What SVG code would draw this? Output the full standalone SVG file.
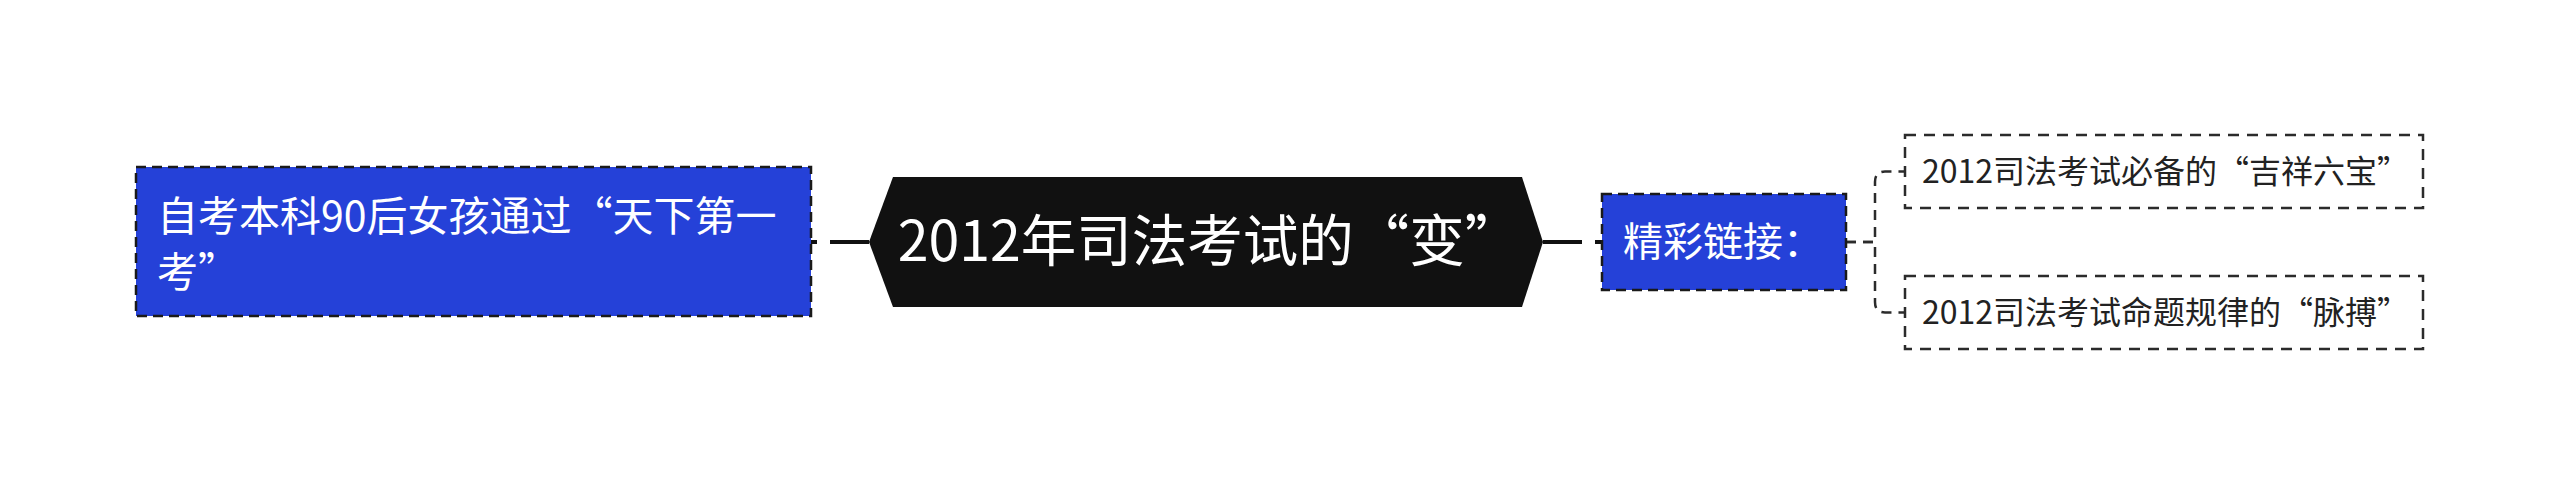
<svg xmlns="http://www.w3.org/2000/svg" width="2560" height="485" viewBox="0 0 2560 485">
<style>
text{font-family:"Noto Sans CJK SC","Noto Sans",sans-serif;}
.blue{fill:#2541D8;stroke:#1a1a1a;stroke-width:2.5;stroke-dasharray:10 6;}
.leaf{fill:#ffffff;stroke:#2b2b2b;stroke-width:2.5;stroke-dasharray:11 8;}
.wt{fill:#ffffff;}
.main{fill:none;stroke:#111111;stroke-width:4;stroke-dasharray:39 13;}
.sub{fill:none;stroke:#2b2b2b;stroke-width:2.5;stroke-dasharray:10 7;}
</style>
<rect width="2560" height="485" fill="#ffffff"/>
<g id="connectors">
<path class="main" d="M869,242 H811"/>
<path class="main" d="M1543,242 H1602"/>
<path class="sub" d="M1846,242 H1875 V182 Q1875,171.5 1885,171.5 H1905"/>
<path class="sub" d="M1846,242 H1875 V302 Q1875,312.5 1885,312.5 H1905"/>
</g>
<g id="node-left">
<rect class="blue" x="136" y="167" width="675" height="149"/>
<text class="wt" x="157" y="231" font-size="41">自考本科90后女孩通过“天下第一</text>
<text class="wt" x="157" y="287" font-size="41">考”</text>
</g>
<g id="node-center">
<polygon points="869,242 893,177 1522,177 1543,242 1522,307 893,307" fill="#111111"/>
<text class="wt" x="1209" y="261" font-size="55.5" text-anchor="middle">2012年司法考试的“变”</text>
</g>
<g id="node-links">
<rect class="blue" x="1602" y="194" width="244" height="96"/>
<text class="wt" x="1623" y="256" font-size="40">精彩链接：</text>
</g>
<g id="node-leaf1">
<rect class="leaf" x="1905" y="135" width="518" height="73"/>
<text x="1922" y="183" font-size="32" fill="#222222">2012司法考试必备的“吉祥六宝”</text>
</g>
<g id="node-leaf2">
<rect class="leaf" x="1905" y="276" width="518" height="73"/>
<text x="1922" y="324" font-size="32" fill="#222222">2012司法考试命题规律的“脉搏”</text>
</g>
</svg>
